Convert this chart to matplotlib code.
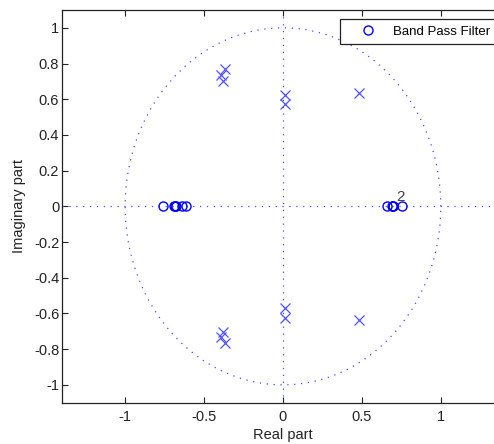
import numpy as np
import matplotlib
matplotlib.use("Agg")
import matplotlib.pyplot as plt

# Zeros (all real)
zeros_re = [-0.76, -0.69, -0.685, -0.68, -0.64, -0.612, 0.662, 0.69, 0.70, 0.70, 0.755]
zeros_im = [0.0] * len(zeros_re)

# Poles (upper half; conjugates mirrored)
poles_re_upper = [-0.365, -0.392, -0.38, 0.01, 0.01, 0.485]
poles_im_upper = [0.768, 0.734, 0.702, 0.626, 0.571, 0.637]

multiplicity_label = "2"
multiplicity_pos = (0.70, 0.0)

legend_label = "Band Pass Filter"
xlabel = "Real part"
ylabel = "Imaginary part"
xticks = [-1, -0.5, 0, 0.5, 1]
yticks = [-1, -0.8, -0.6, -0.4, -0.2, 0, 0.2, 0.4, 0.6, 0.8, 1]

plt.rcParams['font.family'] = ['Liberation Sans', 'DejaVu Sans']

W, H = 494, 444
fig = plt.figure(figsize=(W / 100, H / 100), dpi=100)
left_px, right_px, top_px, bottom_px = 62, 503.9, 10, 402.7
ax = fig.add_axes([left_px / W, 1 - bottom_px / H, (right_px - left_px) / W, (bottom_px - top_px) / H])

xlim = (-1.4, 1.4)
ylim = (-1.1, 1.1)
ax.set_xlim(*xlim)
ax.set_ylim(*ylim)

dot_color = '#4a4aff'
dotstyle = (0, (1, 4.5))
theta = np.linspace(0, 2 * np.pi, 400)
ax.plot(np.cos(theta), np.sin(theta), color=dot_color, lw=0.9, linestyle=dotstyle)
ax.plot(xlim, [0, 0], color=dot_color, lw=0.9, linestyle=dotstyle)
ax.plot([0, 0], ylim, color=dot_color, lw=0.9, linestyle=dotstyle)

ax.plot(zeros_re, zeros_im, linestyle='none', marker='o', markersize=6.5,
        markerfacecolor='none', markeredgecolor='#0000ff', markeredgewidth=1.0,
        label=legend_label)

pr = poles_re_upper + poles_re_upper
pi_ = poles_im_upper + [-v for v in poles_im_upper]
ax.plot(pr, pi_, linestyle='none', marker='x', markersize=6.5,
        color='#5050ff', markeredgewidth=0.9)

ax.text(multiplicity_pos[0] + 0.02, multiplicity_pos[1] + 0.015, multiplicity_label,
        fontsize=11, color='#444444', ha='left', va='bottom')

ax.set_xticks(xticks)
ax.set_xticklabels(['-1', '-0.5', '0', '0.5', '1'])
ax.set_yticks(yticks)
ax.set_yticklabels(['-1', '-0.8', '-0.6', '-0.4', '-0.2', '0', '0.2', '0.4', '0.6', '0.8', '1'])
ax.tick_params(axis='both', direction='in', length=4.5, width=0.8, labelsize=10.5,
               top=True, right=True, colors='#222222')
ax.tick_params(axis='y', pad=2)
ax.tick_params(axis='x', pad=5)
for s in ax.spines.values():
    s.set_color('#222222')
    s.set_linewidth(0.9)

ax.set_xlabel(xlabel, fontsize=10.5, color='#222222', labelpad=3)
ax.set_ylabel(ylabel, fontsize=10.5, color='#222222', labelpad=6)

leg = ax.legend(loc='upper left', bbox_to_anchor=((340 - left_px) / (right_px - left_px),
                                                   (bottom_px - 19) / (bottom_px - top_px)),
                borderaxespad=0, fancybox=False, edgecolor='#222222', framealpha=1,
                fontsize=9.5, handlelength=3.2, handletextpad=0.3, borderpad=0.5,
                numpoints=1)
leg.get_frame().set_linewidth(0.9)

fig.savefig('out.png', dpi=100)
